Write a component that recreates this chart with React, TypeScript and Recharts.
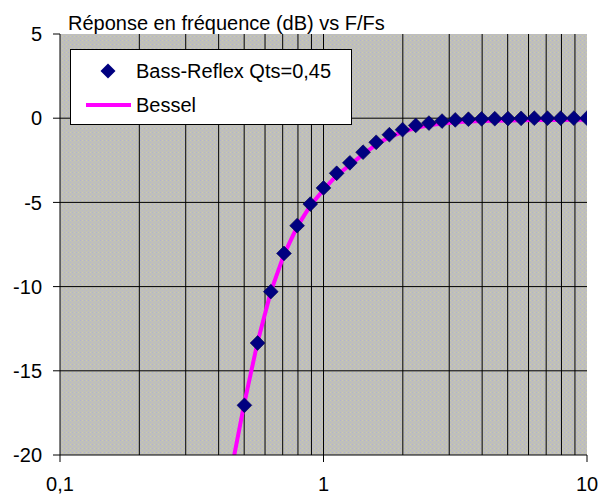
import React from 'react';
import { LineChart, Line, XAxis, YAxis, CartesianGrid, ReferenceLine } from 'recharts';

// F/Fs (pas de 1/20 de décade)
const freqs = [
  0.447, 0.501, 0.562, 0.631, 0.708, 0.794, 0.891, 1, 1.122, 1.259, 1.413, 1.585, 1.778, 1.995,
  2.239, 2.512, 2.818, 3.162, 3.548, 3.981, 4.467, 5.012, 5.623, 6.31, 7.079, 7.943, 8.913, 10,
];

// Bass-Reflex Qts=0,45 (dB)
const bassReflex = [
  null, -17.05, -13.35, -10.3, -8.03, -6.38, -5.1, -4.14, -3.27, -2.65, -2.02, -1.43, -0.98, -0.68,
  -0.43, -0.29, -0.17, -0.1, -0.06, -0.04, -0.03, -0.02, -0.01, 0, 0, 0, 0, 0,
];

// Bessel (dB)
const bessel = [
  -20.9, -16.9, -13.3, -10.3, -8.1, -6.45, -5.2, -4.25, -3.4, -2.78, -2.15, -1.57, -1.12, -0.82,
  -0.57, -0.42, -0.31, -0.24, -0.2, -0.17, -0.15, -0.13, -0.12, -0.11, -0.1, -0.1, -0.09, -0.09,
];

const xTicks = [0.1, 1, 10];
const yTicks = [-20, -15, -10, -5, 0, 5];
const vGrid = [0.2, 0.3, 0.4, 0.5, 0.6, 0.7, 0.8, 0.9, 1, 2, 3, 4, 5, 6, 7, 8, 9];
const hGrid = [-15, -10, -5, 0];

const data = freqs.map((f, i) => ({ f, br: bassReflex[i], bessel: bessel[i] }));

const FONT = '"Liberation Sans", Arial, sans-serif';

const Diamond = (props: any) => {
  const { cx, cy, index } = props;
  if (cx == null || cy == null || props.value == null) return <g key={`d-${index}`} />;
  const r = 7.4;
  return (
    <polygon
      key={`d-${index}`}
      points={`${cx},${cy - r} ${cx + r},${cy} ${cx},${cy + r} ${cx - r},${cy}`}
      fill="#000080"
      stroke="#000050"
      strokeWidth={0.6}
    />
  );
};

const App: React.FC = () => {
  return (
    <div style={{ position: 'absolute', left: 0, top: 0, width: 605, height: 496, background: '#fff', fontFamily: FONT }}>
      <div style={{ position: 'absolute', left: 68, top: 13, fontSize: 20, lineHeight: '20px', color: '#000', whiteSpace: 'nowrap' }}>
        Réponse en fréquence (dB) vs F/Fs
      </div>
      <LineChart width={605} height={496} data={data} margin={{ top: 34, right: 18, left: 0, bottom: 0 }}>
        <defs>
          <pattern id="bgpat" width="4" height="4" patternUnits="userSpaceOnUse">
            <rect width="4" height="4" fill="#c0c0b8" />
            <rect x="0" y="0" width="1" height="1" fill="#b0b0d4" />
            <rect x="2" y="2" width="1" height="1" fill="#b8b8cc" />
            <rect x="2" y="0" width="1" height="1" fill="#cacab0" />
          </pattern>
        </defs>
        <CartesianGrid horizontal={false} vertical={false} fill="url(#bgpat)" fillOpacity={1} stroke="none" />
        {vGrid.map((v) => (
          <ReferenceLine key={`v-${v}`} x={v} stroke="#000" strokeWidth={1} />
        ))}
        {hGrid.map((v) => (
          <ReferenceLine key={`h-${v}`} y={v} stroke="#000" strokeWidth={1} />
        ))}
        <XAxis
          dataKey="f"
          type="number"
          scale="log"
          domain={[0.1, 10]}
          allowDataOverflow
          ticks={xTicks}
          tickFormatter={(v: number) => String(v).replace('.', ',')}
          height={41}
          tickSize={7}
          tickMargin={15}
          axisLine={{ stroke: '#000' }}
          tickLine={{ stroke: '#000' }}
          tick={{ fill: '#000', fontSize: 20, fontFamily: FONT }}
        />
        <YAxis
          type="number"
          domain={[-20, 5]}
          allowDataOverflow
          ticks={yTicks}
          width={60}
          tickSize={7}
          tickMargin={11}
          axisLine={{ stroke: '#000' }}
          tickLine={{ stroke: '#000' }}
          tick={{ fill: '#000', fontSize: 20, fontFamily: FONT }}
        />
        <Line
          dataKey="bessel"
          type="linear"
          stroke="#ff00ff"
          strokeWidth={4}
          dot={false}
          activeDot={false}
          isAnimationActive={false}
        />
        <Line
          dataKey="br"
          type="linear"
          stroke="none"
          dot={Diamond}
          activeDot={false}
          isAnimationActive={false}
        />
      </LineChart>
      <div
        style={{
          position: 'absolute',
          left: 70,
          top: 49,
          width: 282,
          height: 76,
          boxSizing: 'border-box',
          background: '#fff',
          border: '1px solid #000',
          fontSize: 20,
          color: '#000',
        }}
      >
        <svg width={60} height={74} style={{ position: 'absolute', left: 0, top: 0 }}>
          <polygon points="37,13.5 44.5,21 37,28.5 29.5,21" fill="#000080" />
          <line x1={15} y1={55} x2={62} y2={55} stroke="#ff00ff" strokeWidth={4} />
        </svg>
        <div style={{ position: 'absolute', left: 65, top: 9, lineHeight: '24px', whiteSpace: 'nowrap' }}>
          Bass-Reflex Qts=0,45
        </div>
        <div style={{ position: 'absolute', left: 65, top: 43, lineHeight: '24px', whiteSpace: 'nowrap' }}>
          Bessel
        </div>
      </div>
    </div>
  );
};

export default App;
